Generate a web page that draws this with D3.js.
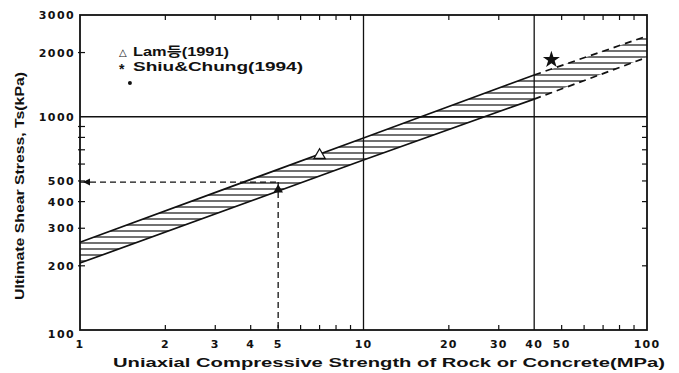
<!DOCTYPE html>
<html><head><meta charset="utf-8">
<script src="https://cdn.jsdelivr.net/npm/d3@7/dist/d3.min.js"></script>
<style>
body{margin:0;background:#fff;}
svg{display:block;}
.tk{font-family:"DejaVu Sans","Liberation Sans",sans-serif;font-weight:bold;font-size:11px;fill:#111;}
</style></head>
<body>
<svg id="c" width="679" height="373"></svg>
<script>
// ---- data ----
const xLabelTicks = [1, 2, 3, 4, 5, 10, 20, 30, 40, 50, 100];
const xMinorTicks = [2, 3, 4, 5, 6, 7, 8, 9, 20, 30, 50, 60, 70, 80, 90];
const yLabelTicks = [100, 200, 300, 400, 500, 1000, 2000, 3000];
const yMinorTicksLeft = [200, 300, 400, 500, 600, 700, 800, 900, 2000];
const yMinorTicksRight = [200, 300, 400, 500, 600, 700, 800, 900];
const gridX = [10, 40];
const gridY = [1000];
// envelope band (solid part 1-40 MPa, dashed extension 40-100 MPa)
const bandX = [1, 10, 40, 100];
const bandUpper = [258, 795, 1570, 2390];
const bandLower = [206, 627, 1210, 1900];
const solidEnd = 40;
// guide lines (dashed)
const guideStrength = 5;
const guideStress = 494;
// data points
const lamPoints = [{x: 7, y: 660}];
const shiuPoints = [{x: 46, y: 1850}];
const dotPoints = [{x: 1.5, y: 1440}];
const filledTri = [{x: 5, y: 455}];
const legendSymbols = ["△", "*"];
const legendLabels = ["Lam등(1991)", "Shiu&Chung(1994)"];
const xTitle = "Uniaxial Compressive Strength of Rock or Concrete(MPa)";
const yTitle = "Ultimate Shear Stress, Ts(kPa)";

// ---- layout ----
const W = 679, H = 373;
const m = {l: 80, r: 32, t: 15, b: 43};
const svg = d3.select("#c");
const x = d3.scaleLog().domain([1, 100]).range([m.l, W - m.r]);
const y = d3.scaleLog().domain([100, 3000]).range([H - m.b, m.t]);

const defs = svg.append("defs");
const pat = defs.append("pattern").attr("id", "hatch").attr("patternUnits", "userSpaceOnUse")
  .attr("width", 8).attr("height", 6);
pat.append("line").attr("x1", 0).attr("x2", 8).attr("y1", 3).attr("y2", 3)
  .attr("stroke", "#111").attr("stroke-width", 1.2);
defs.append("clipPath").attr("id", "plotclip").append("rect")
  .attr("x", m.l).attr("y", m.t).attr("width", W - m.l - m.r).attr("height", H - m.t - m.b);

const g = svg.append("g");

// band
const bandPts = bandX.map((v, i) => ({x: v, u: bandUpper[i], l: bandLower[i]}));
const area = d3.area().x(d => x(d.x)).y0(d => y(d.l)).y1(d => y(d.u));
g.append("path").datum(bandPts).attr("d", area).attr("fill", "url(#hatch)")
  .attr("clip-path", "url(#plotclip)");
const solid = bandPts.filter(d => d.x <= solidEnd);
const dashed = bandPts.filter(d => d.x >= solidEnd);
const lu = d3.line().x(d => x(d.x)).y(d => y(d.u));
const ll = d3.line().x(d => x(d.x)).y(d => y(d.l));
g.append("path").datum(solid).attr("d", lu).attr("fill", "none").attr("stroke", "#111").attr("stroke-width", 1.7);
g.append("path").datum(solid).attr("d", ll).attr("fill", "none").attr("stroke", "#111").attr("stroke-width", 1.7);
g.append("path").datum(dashed).attr("d", lu).attr("fill", "none").attr("stroke", "#111").attr("stroke-width", 1.7).attr("stroke-dasharray", "7,5");
g.append("path").datum(dashed).attr("d", ll).attr("fill", "none").attr("stroke", "#111").attr("stroke-width", 1.7).attr("stroke-dasharray", "7,5");

// grid lines
g.selectAll(".gx").data(gridX).join("line").attr("x1", d => x(d)).attr("x2", d => x(d))
  .attr("y1", y(100)).attr("y2", y(3000)).attr("stroke", "#111").attr("stroke-width", 1.3);
g.selectAll(".gy").data(gridY).join("line").attr("y1", d => y(d)).attr("y2", d => y(d))
  .attr("x1", x(1)).attr("x2", x(100)).attr("stroke", "#111").attr("stroke-width", 1.3);

// dashed guide lines
g.append("line").attr("x1", x(1)).attr("x2", x(guideStrength)).attr("y1", y(guideStress)).attr("y2", y(guideStress))
  .attr("stroke", "#111").attr("stroke-width", 1.3).attr("stroke-dasharray", "6,4");
g.append("line").attr("x1", x(guideStrength)).attr("x2", x(guideStrength)).attr("y1", y(guideStress)).attr("y2", y(100))
  .attr("stroke", "#111").attr("stroke-width", 1.3).attr("stroke-dasharray", "6,4");
// small arrow head at left end
g.append("path").attr("d", d3.line()([[x(1) + 3, y(guideStress)], [x(1) + 10, y(guideStress) - 3.5], [x(1) + 10, y(guideStress) + 3.5]]) + "Z")
  .attr("fill", "#111");

// frame
g.append("rect").attr("x", m.l).attr("y", m.t).attr("width", W - m.l - m.r).attr("height", H - m.t - m.b)
  .attr("fill", "none").attr("stroke", "#111").attr("stroke-width", 1.8);

// ticks
const tl = 5;
g.selectAll(".tb").data(xMinorTicks).join("line").attr("x1", d => x(d)).attr("x2", d => x(d))
  .attr("y1", y(100)).attr("y2", y(100) - tl).attr("stroke", "#111").attr("stroke-width", 1.2);
g.selectAll(".tt").data(xMinorTicks).join("line").attr("x1", d => x(d)).attr("x2", d => x(d))
  .attr("y1", y(3000)).attr("y2", y(3000) + tl).attr("stroke", "#111").attr("stroke-width", 1.2);
g.selectAll(".tlft").data(yMinorTicksLeft).join("line").attr("y1", d => y(d)).attr("y2", d => y(d))
  .attr("x1", x(1) - 2).attr("x2", x(1) + tl).attr("stroke", "#111").attr("stroke-width", 1.2);
g.selectAll(".trt").data(yMinorTicksRight).join("line").attr("y1", d => y(d)).attr("y2", d => y(d))
  .attr("x1", x(100)).attr("x2", x(100) - tl).attr("stroke", "#111").attr("stroke-width", 1.2);

// tick labels
g.selectAll(".xl").data(xLabelTicks).join("text").attr("class", "tk")
  .attr("x", d => x(d)).attr("y", y(100) + 18).attr("text-anchor", "middle")
  .attr("letter-spacing", 1.2).text(d => d);
g.selectAll(".yl").data(yLabelTicks).join("text").attr("class", "tk")
  .attr("x", m.l - 5).attr("y", d => y(d) + (d === 100 ? 8 : 4)).attr("text-anchor", "end")
  .attr("letter-spacing", 1.4).text(d => d);

// markers
const tri = d3.symbol().type(d3.symbolTriangle).size(55);
g.selectAll(".lam").data(lamPoints).join("path").attr("d", tri)
  .attr("transform", d => `translate(${x(d.x)},${y(d.y)})`).attr("fill", "#fff").attr("stroke", "#111").attr("stroke-width", 1.3);
g.selectAll(".ftri").data(filledTri).join("path").attr("d", d3.symbol().type(d3.symbolTriangle).size(40))
  .attr("transform", d => `translate(${x(d.x)},${y(d.y)})`).attr("fill", "#111");
g.selectAll(".shiu").data(shiuPoints).join("path").attr("d", d3.symbol().type(d3.symbolStar).size(90))
  .attr("transform", d => `translate(${x(d.x)},${y(d.y)})`).attr("fill", "#111");
g.selectAll(".dot").data(dotPoints).join("circle").attr("cx", d => x(d.x)).attr("cy", d => y(d.y))
  .attr("r", 2).attr("fill", "#111");

// legend
const legFont = '"Liberation Sans","DejaVu Sans","Noto Sans CJK KR",sans-serif';
const legW = [96, 170];
g.selectAll(".legs").data(legendSymbols).join("text")
  .attr("x", 119).attr("y", (d, i) => 56 + i * 15 + (i === 1 ? 3 : 0))
  .attr("font-family", legFont).attr("font-weight", "bold").attr("font-size", (d, i) => i === 0 ? 10 : 14)
  .attr("fill", "#111").text(d => d);
g.selectAll(".leg").data(legendLabels).join("text")
  .attr("x", 133).attr("y", (d, i) => 56 + i * 15)
  .attr("font-family", legFont)
  .attr("font-weight", "bold").attr("font-size", 13).attr("fill", "#111")
  .attr("textLength", (d, i) => legW[i]).attr("lengthAdjust", "spacingAndGlyphs")
  .text(d => d);

// axis titles
svg.append("text").attr("x", 113).attr("y", 367)
  .attr("font-family", '"Liberation Sans","DejaVu Sans",sans-serif').attr("font-weight", "bold")
  .attr("font-size", 13).attr("fill", "#111").attr("textLength", 552).attr("lengthAdjust", "spacingAndGlyphs")
  .text(xTitle);
svg.append("text").attr("transform", "translate(24,300) rotate(-90)")
  .attr("font-family", '"Liberation Sans","DejaVu Sans",sans-serif').attr("font-weight", "bold")
  .attr("font-size", 13).attr("fill", "#111").attr("textLength", 228).attr("lengthAdjust", "spacingAndGlyphs")
  .text(yTitle);
</script>
</body></html>
